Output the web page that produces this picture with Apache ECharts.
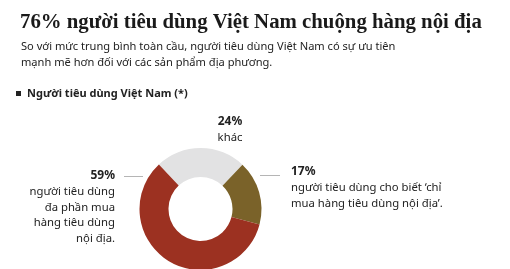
<!DOCTYPE html>
<html>
<head>
<meta charset="utf-8">
<script src="https://cdn.jsdelivr.net/npm/echarts@6/dist/echarts.min.js"></script>
<style>html,body{margin:0;padding:0;background:#fff}#c{width:510px;height:269px}</style>
</head>
<body>
<div id="c"></div>
<script>
const titleText = "76% người tiêu dùng Việt Nam chuộng hàng nội địa";
const subtitleLines = ["So với mức trung bình toàn cầu, người tiêu dùng Việt Nam có sự ưu tiên", "mạnh mẽ hơn đối với các sản phẩm địa phương."];
const legendText = "Người tiêu dùng Việt Nam (*)";
const categories = ["khác", "chỉ nội địa", "đa phần nội địa"];
const values = [24, 17, 59];
const colors = ["#e2e2e3", "#7a6229", "#9c3121"];
const descriptions = [
  ["khác"],
  ["người tiêu dùng cho biết ‘chỉ", "mua hàng tiêu dùng nội địa’."],
  ["người tiêu dùng", "đa phần mua", "hàng tiêu dùng", "nội địa."]
];

const chart = echarts.init(document.getElementById('c'), null, {renderer: 'canvas'});
const sans = '"Noto Sans", sans-serif';
const textColor = '#222';

function lbl(i, x, y, align) {
  const out = [{
    type: 'text', x: x, y: y,
    style: { text: values[i] + '%', align: align, verticalAlign: 'middle', font: 'bold 12px ' + sans, fill: textColor }
  }];
  descriptions[i].forEach((line, k) => {
    out.push({
      type: 'text', x: x, y: y + 15.7 * (k + 1),
      style: { text: line, align: align, verticalAlign: 'middle', font: '11.3px ' + sans, fill: textColor }
    });
  });
  return out;
}

chart.setOption({
  animation: false,
  title: [{
    text: titleText, left: 15, top: 7,
    textStyle: { fontFamily: '"Liberation Serif", serif', fontWeight: 'bold', fontSize: 20.8, color: '#1a1a1a' }
  }, {
    text: subtitleLines.join('\n'), left: 16, top: 34,
    textStyle: { fontFamily: sans, fontWeight: 'normal', fontSize: 11.1, lineHeight: 16, color: textColor }
  }],
  graphic: [
    { type: 'rect', shape: { x: 16, y: 91, width: 5, height: 5 }, style: { fill: '#222' } },
    { type: 'text', x: 27, y: 93.5, style: { text: legendText, verticalAlign: 'middle', font: 'bold 11px ' + sans, fill: textColor } },
    ...lbl(0, 230, 122, 'center'),
    ...lbl(2, 115, 176, 'right'),
    ...lbl(1, 291, 172, 'left'),
    { type: 'line', shape: { x1: 124, y1: 176.5, x2: 143, y2: 176.5 }, style: { stroke: '#b5b5b5', lineWidth: 1 } },
    { type: 'line', shape: { x1: 260, y1: 175.5, x2: 280, y2: 175.5 }, style: { stroke: '#b5b5b5', lineWidth: 1 } }
  ],
  series: [{
    type: 'pie',
    center: [200.5, 209],
    radius: [32, 61],
    startAngle: 133,
    clockwise: true,
    label: { show: false },
    labelLine: { show: false },
    emphasis: { disabled: true },
    data: categories.map((c, i) => ({ name: c, value: values[i], itemStyle: { color: colors[i] } }))
  }]
});
</script>
</body>
</html>
